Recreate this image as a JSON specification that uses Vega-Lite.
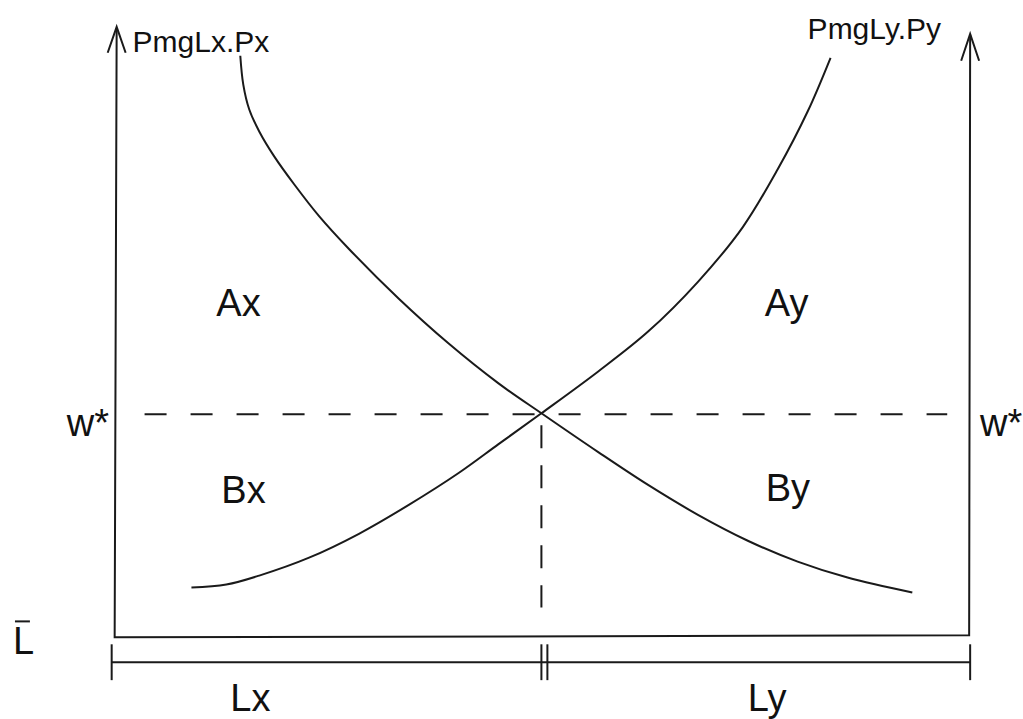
{
  "$schema": "https://vega.github.io/schema/vega-lite/v6.json",
  "width": 1023,
  "height": 719,
  "autosize": {"type": "fit", "contains": "padding"},
  "padding": 0,
  "background": "white",
  "config": {"view": {"stroke": null}},
  "datasets": {
    "solid": [
      {"id": "ax", "o": 1, "x": 117, "y": 28},
      {"id": "ax", "o": 2, "x": 115, "y": 640},
      {"id": "ax", "o": 3, "x": 972, "y": 638},
      {"id": "ax", "o": 4, "x": 973, "y": 35},
      {"id": "la", "o": 1, "x": 108, "y": 53},
      {"id": "la", "o": 2, "x": 117, "y": 27},
      {"id": "la", "o": 3, "x": 126, "y": 53},
      {"id": "ra", "o": 1, "x": 964, "y": 61},
      {"id": "ra", "o": 2, "x": 973, "y": 34},
      {"id": "ra", "o": 3, "x": 982, "y": 61},
      {"id": "br", "o": 1, "x": 112, "y": 665},
      {"id": "br", "o": 2, "x": 973, "y": 665},
      {"id": "t1", "o": 1, "x": 112, "y": 647},
      {"id": "t1", "o": 2, "x": 112, "y": 683},
      {"id": "t2", "o": 1, "x": 543, "y": 647},
      {"id": "t2", "o": 2, "x": 543, "y": 683},
      {"id": "t3", "o": 1, "x": 549, "y": 647},
      {"id": "t3", "o": 2, "x": 549, "y": 683},
      {"id": "t4", "o": 1, "x": 973, "y": 647},
      {"id": "t4", "o": 2, "x": 973, "y": 683},
      {"id": "ob", "o": 1, "x": 15, "y": 624},
      {"id": "ob", "o": 2, "x": 30, "y": 624}
    ],
    "curves": [
      {"id": "PmgLx", "o": 1, "x": 241, "y": 56},
      {"id": "PmgLx", "o": 2, "x": 244, "y": 85},
      {"id": "PmgLx", "o": 3, "x": 250, "y": 110},
      {"id": "PmgLx", "o": 4, "x": 260, "y": 132},
      {"id": "PmgLx", "o": 5, "x": 275, "y": 157},
      {"id": "PmgLx", "o": 6, "x": 295, "y": 185},
      {"id": "PmgLx", "o": 7, "x": 320, "y": 217},
      {"id": "PmgLx", "o": 8, "x": 350, "y": 250},
      {"id": "PmgLx", "o": 9, "x": 400, "y": 300},
      {"id": "PmgLx", "o": 10, "x": 450, "y": 345},
      {"id": "PmgLx", "o": 11, "x": 500, "y": 385},
      {"id": "PmgLx", "o": 12, "x": 543, "y": 415},
      {"id": "PmgLx", "o": 13, "x": 600, "y": 454},
      {"id": "PmgLx", "o": 14, "x": 650, "y": 487},
      {"id": "PmgLx", "o": 15, "x": 700, "y": 517},
      {"id": "PmgLx", "o": 16, "x": 750, "y": 543},
      {"id": "PmgLx", "o": 17, "x": 800, "y": 564},
      {"id": "PmgLx", "o": 18, "x": 850, "y": 580},
      {"id": "PmgLx", "o": 19, "x": 915, "y": 595},
      {"id": "PmgLy", "o": 1, "x": 192, "y": 590},
      {"id": "PmgLy", "o": 2, "x": 227, "y": 587},
      {"id": "PmgLy", "o": 3, "x": 260, "y": 578},
      {"id": "PmgLy", "o": 4, "x": 310, "y": 560},
      {"id": "PmgLy", "o": 5, "x": 360, "y": 536},
      {"id": "PmgLy", "o": 6, "x": 410, "y": 507},
      {"id": "PmgLy", "o": 7, "x": 460, "y": 475},
      {"id": "PmgLy", "o": 8, "x": 500, "y": 446},
      {"id": "PmgLy", "o": 9, "x": 543, "y": 415},
      {"id": "PmgLy", "o": 10, "x": 600, "y": 373},
      {"id": "PmgLy", "o": 11, "x": 650, "y": 333},
      {"id": "PmgLy", "o": 12, "x": 700, "y": 283},
      {"id": "PmgLy", "o": 13, "x": 745, "y": 228},
      {"id": "PmgLy", "o": 14, "x": 780, "y": 170},
      {"id": "PmgLy", "o": 15, "x": 810, "y": 112},
      {"id": "PmgLy", "o": 16, "x": 833, "y": 58}
    ],
    "dashH": [
      {"o": 1, "x": 145, "y": 416},
      {"o": 2, "x": 950, "y": 416}
    ],
    "dashV": [
      {"o": 1, "x": 543, "y": 427},
      {"o": 2, "x": 543, "y": 610}
    ],
    "labels": [
      {"label": "PmgLx.Px", "x": 133, "y": 52, "size": 30},
      {"label": "PmgLy.Py", "x": 810, "y": 39, "size": 30},
      {"label": "Ax", "x": 217, "y": 317, "size": 38},
      {"label": "Ay", "x": 767, "y": 317, "size": 38},
      {"label": "Bx", "x": 222, "y": 505, "size": 38},
      {"label": "By", "x": 768, "y": 503, "size": 38},
      {"label": "w*", "x": 67, "y": 438, "size": 38},
      {"label": "w*", "x": 983, "y": 438, "size": 38},
      {"label": "L", "x": 13, "y": 657, "size": 38},
      {"label": "Lx", "x": 231, "y": 714, "size": 38},
      {"label": "Ly", "x": 750, "y": 714, "size": 38}
    ]
  },
  "layer": [
    {
      "data": {"name": "solid"},
      "mark": {"type": "line", "color": "#1a1a1a", "strokeWidth": 2},
      "encoding": {
        "x": {"field": "x", "type": "quantitative", "scale": {"domain": [0, 1023], "nice": false, "zero": false}, "axis": null},
        "y": {"field": "y", "type": "quantitative", "scale": {"domain": [0, 719], "reverse": true, "nice": false, "zero": false}, "axis": null},
        "detail": {"field": "id"},
        "order": {"field": "o", "type": "quantitative"}
      }
    },
    {
      "data": {"name": "curves"},
      "mark": {"type": "line", "color": "#1a1a1a", "strokeWidth": 2, "interpolate": "catmull-rom"},
      "encoding": {
        "x": {"field": "x", "type": "quantitative"},
        "y": {"field": "y", "type": "quantitative"},
        "detail": {"field": "id"},
        "order": {"field": "o", "type": "quantitative"}
      }
    },
    {
      "data": {"name": "dashH"},
      "mark": {"type": "line", "color": "#1a1a1a", "strokeWidth": 2, "strokeDash": [22, 24]},
      "encoding": {
        "x": {"field": "x", "type": "quantitative"},
        "y": {"field": "y", "type": "quantitative"},
        "order": {"field": "o", "type": "quantitative"}
      }
    },
    {
      "data": {"name": "dashV"},
      "mark": {"type": "line", "color": "#1a1a1a", "strokeWidth": 2, "strokeDash": [23, 17]},
      "encoding": {
        "x": {"field": "x", "type": "quantitative"},
        "y": {"field": "y", "type": "quantitative"},
        "order": {"field": "o", "type": "quantitative"}
      }
    },
    {
      "data": {"name": "labels"},
      "mark": {"type": "text", "align": "left", "baseline": "alphabetic", "font": "Liberation Sans", "color": "#111111"},
      "encoding": {
        "x": {"field": "x", "type": "quantitative"},
        "y": {"field": "y", "type": "quantitative"},
        "text": {"field": "label"},
        "size": {"field": "size", "type": "quantitative", "scale": null}
      }
    }
  ]
}
